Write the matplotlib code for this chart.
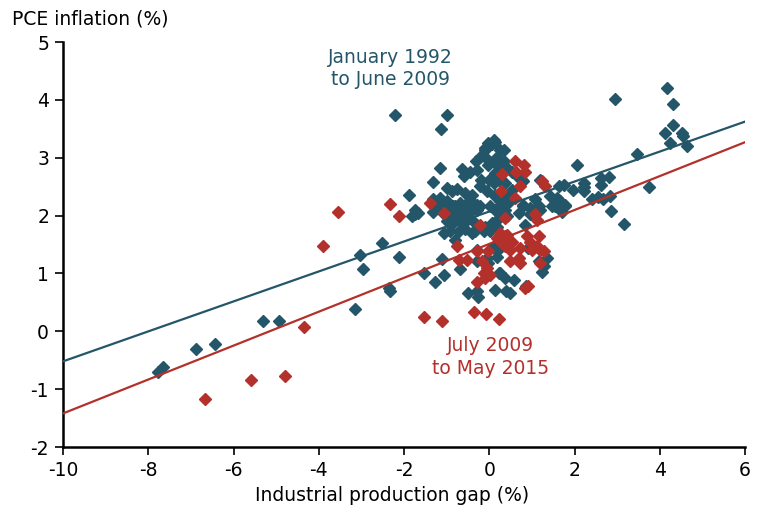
import matplotlib
matplotlib.use("Agg")
import matplotlib.pyplot as plt
import numpy as np

plt.rcParams["axes.unicode_minus"] = False

# ---------------------------------------------------------------------------
# Data
# ---------------------------------------------------------------------------

# January 1992 to June 2009
BLUE_X = [
    -7.76, -7.65, -6.89, -6.43, -5.31, -4.94, -3.15, -3.03, -2.96, -2.52,
    -2.36, -2.32, -2.11, -2.20, -0.99, -1.13, -1.88,
    0.10, -0.02, -0.09, 0.26, 0.14, 0.06, 0.34, -0.09,
    -0.31, -0.21, -0.05, -0.02, 0.18, 0.34, 0.41, 0.14, 0.26,
    -0.64, -0.45, -0.29, -0.60, -0.20, -0.01, 0.10, -1.15, -1.33,
    -0.99, -0.88, -0.76, -0.56, -0.40, -0.48, -1.15, -0.99, -0.21, -0.05,
    0.14, 0.26, 0.41, -0.29, -0.80, -0.64, -1.74,
    0.14, 0.06, 0.26, 0.38, 0.77, 0.53, 0.45, 0.14, 0.26,
    0.53, 0.65, 0.80,
    1.20, 1.63, 1.43, 1.59, 1.67, 1.08, 0.80, 0.96, 1.16, 1.47, 0.49, 1.20,
    2.06, 1.75, 1.96, 2.23, 2.23, 2.23, 2.62, 2.62, 2.82, 3.74, 2.41, 2.54,
    2.68, 2.83, 2.86, 3.17, 1.78, 1.71, 2.96, 4.17, 4.30, 4.30, 4.13, 4.53,
    4.25, 4.64, 4.55, 3.47,
    -1.31, -1.66, -1.81, -1.74, -1.15, -0.99, -0.84, -0.68, -0.52, -0.92,
    -0.76, -0.60, -0.45, -0.29, -0.21, -0.37, -0.99, -0.84, -0.68, -0.52,
    -0.37, -1.07, -0.92, -0.72, -0.56, -0.41, -0.33, -0.09, 0.06, 0.18,
    0.02, -0.13, 0.02, 0.18, 0.26, 0.38, 0.41, 0.22, -1.31, -1.15, -0.99,
    -1.07, 0.69, 0.80, 1.04, 0.96, 0.85, 1.55, 1.78,
    -1.11, -0.68, -0.29, -0.02, 0.26, -1.54, -1.07, -1.27, -0.49, -0.29,
    -0.27, 0.14, 0.24, 0.38, 0.59, 0.40, 0.49, 0.87, 1.16, 1.28, 1.24,
    1.35, -0.80, -0.29, -0.05, 0.18, 0.92, 0.10, 0.18,
]
BLUE_Y = [
    -0.71, -0.62, -0.31, -0.22, 0.18, 0.18, 0.38, 1.31, 1.08, 1.53,
    0.74, 0.69, 1.28, 3.74, 3.73, 3.50, 2.35,
    3.31, 3.26, 3.17, 3.14, 3.28, 3.23, 3.14, 3.14,
    2.94, 3.02, 2.97, 2.88, 3.02, 2.94, 2.82, 2.91, 2.85,
    2.81, 2.75, 2.79, 2.68, 2.62, 2.62, 2.56, 2.82, 2.58,
    2.48, 2.42, 2.46, 2.39, 2.36, 2.25, 2.30, 2.25, 2.51, 2.42,
    2.33, 2.25, 2.22, 2.19, 2.16, 2.15, 2.10,
    2.74, 2.62, 2.59, 2.56, 2.62, 2.45, 2.36, 2.36, 2.28,
    2.76, 2.68, 2.59,
    2.62, 2.51, 2.33, 2.30, 2.25, 2.28, 2.19, 2.13, 2.16, 2.16, 2.25, 2.10,
    2.88, 2.52, 2.44, 2.56, 2.49, 2.42, 2.65, 2.52, 2.67, 2.50, 2.28, 2.32,
    2.29, 2.34, 2.08, 1.85, 2.17, 2.07, 4.02, 4.21, 3.92, 3.56, 3.42, 3.42,
    3.26, 3.21, 3.37, 3.07,
    2.07, 2.05, 1.99, 2.02, 2.22, 2.19, 2.16, 2.22, 2.19, 2.05,
    2.02, 2.05, 2.07, 2.10, 2.16, 2.22, 1.90, 1.87, 1.90, 1.93,
    1.90, 1.70, 1.73, 1.73, 1.76, 1.70, 1.73, 1.81, 1.87, 1.81,
    1.73, 1.73, 2.16, 2.07, 2.19, 2.10, 1.99, 1.96, 2.28, 2.16, 2.10,
    2.02, 2.05, 2.16, 2.10, 2.02, 1.84, 2.16, 2.19,
    1.25, 1.07, 1.21, 1.18, 1.01, 1.01, 0.98, 0.85, 0.67, 0.69,
    0.60, 0.71, 1.01, 0.92, 0.88, 0.69, 0.66, 0.78, 1.21, 1.12, 1.03,
    1.27, 1.58, 1.41, 1.27, 1.29, 1.44, 1.47, 1.38,
]

# July 2009 to May 2015
RED_X = [
    -6.66, -5.60, -4.79, -4.34, -3.90, -3.54, -2.34, -2.11, -1.40, -1.07,
    -1.54, -1.11, -0.35, -0.08, 0.24,
    0.30, 0.28, 0.61, 0.81, 0.85, 0.63, 0.71, 0.61, 1.24, 1.30,
    -0.21, 0.26, 0.41, 0.34, 0.45, 0.38, 0.45, 0.30, 0.53, 0.18, 0.38, 0.49,
    0.26, 1.08, 1.12, 0.38,
    0.88, 0.96, 1.16, 1.12, 1.20, 1.28, 1.00, 0.73,
    0.49, 0.69, 0.73, 1.20,
    -0.76, -0.72, -0.52, -0.29, -0.02, -0.17, -0.06, -0.13, 0.02, -0.09,
    -0.29, 0.92, 0.85,
]
RED_Y = [
    -1.17, -0.84, -0.77, 0.08, 1.47, 2.07, 2.20, 1.99, 2.21, 2.05,
    0.24, 0.17, 0.34, 0.30, 0.21,
    2.71, 2.43, 2.94, 2.88, 2.76, 2.76, 2.51, 2.30, 2.59, 2.51,
    1.83, 1.64, 1.67, 1.55, 1.52, 1.64, 1.58, 1.52, 1.55, 1.61, 1.47, 1.41,
    1.70, 2.02, 1.93, 1.96,
    1.64, 1.55, 1.64, 1.47, 1.41, 1.38, 1.41, 1.44,
    1.21, 1.27, 1.18, 1.18,
    1.47, 1.24, 1.23, 1.38, 1.38, 1.21, 1.09, 1.01, 0.98, 0.92,
    0.85, 0.79, 0.75,
]

# fitted lines: (slope, intercept)
BLUE_FIT = (0.259, 2.07)
RED_FIT = (0.293, 1.51)

X_TICKS = [-10, -8, -6, -4, -2, 0, 2, 4, 6]
Y_TICKS = [-2, -1, 0, 1, 2, 3, 4, 5]

BLUE = "#245669"
RED = "#b3302b"
FS = 13.5

# ---------------------------------------------------------------------------
# Figure
# ---------------------------------------------------------------------------

W, H = 758, 511
fig = plt.figure(figsize=(W / 100, H / 100), dpi=100)
ax = fig.add_axes([63 / W, 1 - 447 / H, (745 - 63) / W, (447 - 42) / H])

ax.plot(BLUE_X, BLUE_Y, ls="none", marker="D", ms=6.0, color=BLUE,
        mec=BLUE, zorder=2)
ax.plot(RED_X, RED_Y, ls="none", marker="D", ms=6.0, color=RED,
        mec=RED, zorder=3)

xs = np.array([-10, 6])
ax.plot(xs, BLUE_FIT[0] * xs + BLUE_FIT[1], color=BLUE, lw=1.6, zorder=4)
ax.plot(xs, RED_FIT[0] * xs + RED_FIT[1], color=RED, lw=1.6, zorder=4)

ax.text(-2.32, 4.54, "January 1992\nto June 2009", color=BLUE, fontsize=FS,
        ha="center", va="center", linespacing=1.25)
ax.text(0.02, -0.44, "July 2009\nto May 2015", color=RED, fontsize=FS,
        ha="center", va="center", linespacing=1.25)

ax.set_xlim(-10, 6)
ax.set_ylim(-2, 5)
ax.set_xticks(X_TICKS)
ax.set_yticks(Y_TICKS)
ax.tick_params(direction="out", length=6, width=1.2, labelsize=FS, pad=4)
for s in ("top", "right"):
    ax.spines[s].set_visible(False)
for s in ("left", "bottom"):
    ax.spines[s].set_linewidth(1.8)

fig.text(12 / W, 1 - 19 / H, "PCE inflation (%)", fontsize=FS,
         ha="left", va="center")
fig.text(392 / W, 1 - 495 / H, "Industrial production gap (%)", fontsize=FS,
         ha="center", va="center")

fig.savefig("out.png", dpi=100)
